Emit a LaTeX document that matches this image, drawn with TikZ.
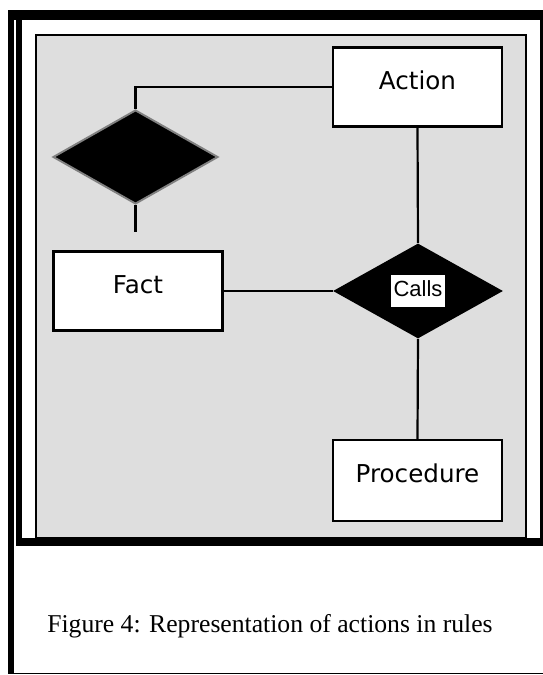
\documentclass[tikz,border=0pt]{standalone}
\usepackage{fontspec}
\setmainfont{Liberation Serif}
\newfontfamily\boxfont{DejaVu Sans}
\newfontfamily\callsfont{Liberation Sans}
\usetikzlibrary{shapes.geometric}

\begin{document}
\begin{tikzpicture}
            [box/.style={rectangle, draw, fill=white, line width=1.25pt, minimum width=3.38cm, minimum height=1.58cm,
                font=\boxfont\fontsize{14}{17}\selectfont, text height=0.36cm, text depth=0.26cm},
            rel/.style={diamond, fill=black, inner sep=0pt, minimum width=3.4cm, minimum height=1.9cm},
            edge/.style={line width=1.25pt, black},
            bar/.style={fill=black}]

            \useasboundingbox (0,0) rectangle (10.86,13.5);

            % Outer frame
            \fill[bar] (0.16,13.1) rectangle (10.86,13.3);
            \fill[bar] (0.16,0.02) rectangle (0.28,13.3);
            \fill[bar] (0.32,2.58) rectangle (0.44,13.3);
            \fill[bar] (10.80,2.58) rectangle (10.86,13.1);
            \draw[line width=0.8pt] (0.16,0.03) -- (10.86,0.03);

            % Gray panel
            \draw[line width=1.1pt, fill=black!13] (0.72,2.74) rectangle (10.52,12.8);
            \fill[bar] (0.32,2.58) rectangle (10.86,2.74);

            \node[box] (action) at (8.35,11.76) {Action};
            \node[box] (fact) at (2.76,7.68) {Fact};
            \node[box, minimum height=1.62cm] (proc) at (8.35,3.89) {Procedure};
            \node[rel, font=\callsfont\fontsize{12.5}{15}\selectfont] (calls) at (8.36,7.68)
                {\setlength{\fboxsep}{1.5pt}\raisebox{-0.05cm}{\colorbox{white}{\strut Calls}}};
            \node[rel, draw=gray, line width=1.1pt, minimum width=3.3cm, minimum height=1.88cm] (cond) at (2.71,10.36) {};
            \coordinate (condend) at (2.71,8.86);

            % Connectors
            \draw[edge] (cond.north) |- (action.west);
            \draw[edge] (cond.south) -- (condend);
            \draw[edge] (action.south) -- (calls.north);
            \draw[edge] (fact.east) -- (calls.west);
            \draw[edge] (calls.south) -- (proc.north);

            % Caption
            \node[font=\fontsize{14.6}{17}\selectfont, anchor=base] (caption) at (5.4,0.86)
                {Figure 4: Representation of actions in rules};

        \end{tikzpicture}
\end{document}
